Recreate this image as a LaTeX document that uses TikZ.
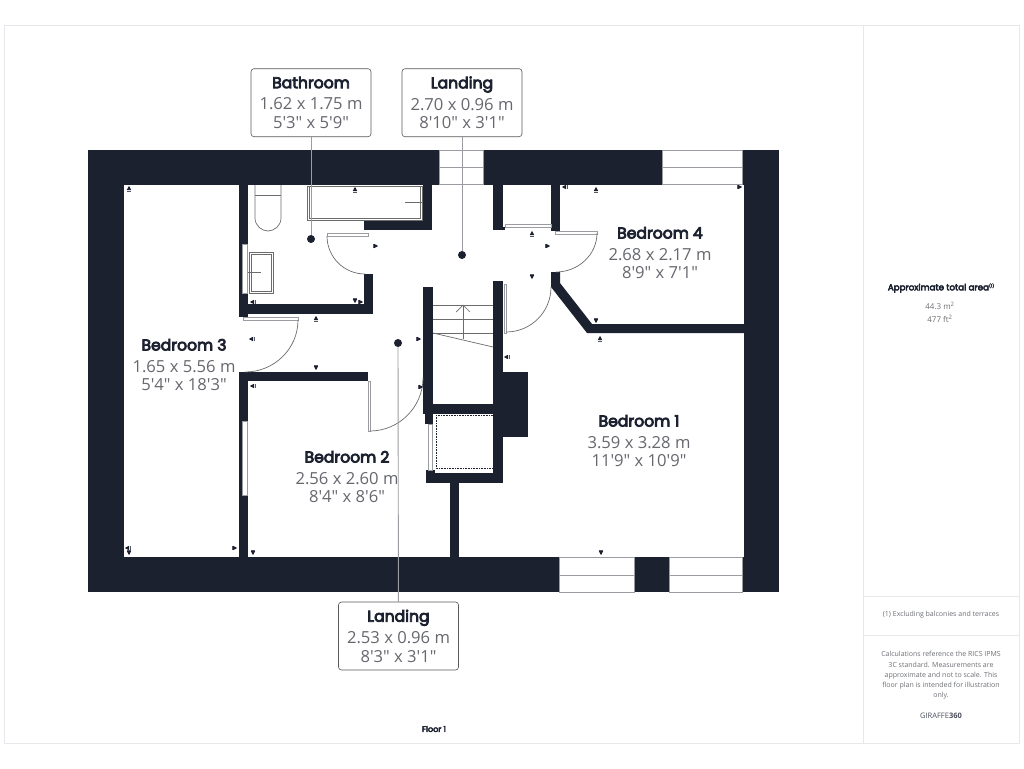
\documentclass[tikz,border=0pt]{standalone}
\usepackage{fontspec}
\setmainfont{Open Sans}[Ligatures=TeXOff]
\newfontfamily\bodyfont{Open Sans}[Ligatures=TeXOff]
\newfontfamily\headfont{Poppins}[FakeBold=5]
\definecolor{wallc}{HTML}{1C2130}
\definecolor{linec}{HTML}{9A9CA2}
\definecolor{framec}{HTML}{E8E8EC}
\definecolor{graytxt}{HTML}{66686E}
\definecolor{smalltxt}{HTML}{6E7076}
\newcommand\rlabel[3]{{\headfont\fontsize{15.6}{19}\selectfont #1}\\[3.2pt]{\color{graytxt} #2}\\{\color{graytxt} #3}}
\newcommand\mku[2]{\fill[markc] (#1-2.2,#2+2) -- (#1+2.2,#2+2) -- (#1,#2-2.2) -- cycle;\draw[markbar] (#1-1.8,#2+3.1) -- (#1+1.8,#2+3.1);}
\newcommand\mkd[2]{\fill[markc] (#1-2.2,#2-2) -- (#1+2.2,#2-2) -- (#1,#2+2.2) -- cycle;\draw[markbar] (#1-1.8,#2-3.1) -- (#1+1.8,#2-3.1);}
\newcommand\mkl[2]{\fill[markc] (#1+2,#2-2.2) -- (#1+2,#2+2.2) -- (#1-2.2,#2) -- cycle;\draw[markbar] (#1+3.1,#2-1.8) -- (#1+3.1,#2+1.8);}
\newcommand\mkr[2]{\fill[markc] (#1-2,#2-2.2) -- (#1-2,#2+2.2) -- (#1+2.2,#2) -- cycle;\draw[markbar] (#1-3.1,#2-1.8) -- (#1-3.1,#2+1.8);}
\tikzset{
  markc/.style={fill=wallc},
  markbar/.style={draw=wallc!75,line width=0.5pt},
  wall/.style={fill=wallc},
  thinl/.style={draw=linec,line width=0.8pt},
  winbox/.style={draw=linec,line width=0.8pt,fill=white},
  doorleaf/.style={draw=linec,line width=0.8pt,fill=white},
  swing/.style={draw=gray!85!black,line width=0.7pt},
  fixture/.style={draw=gray!85!black,line width=0.7pt},
  leader/.style={draw=linec,line width=0.9pt},
  dotn/.style={circle,fill=wallc,inner sep=0pt,minimum size=8pt},
  roomlabel/.style={align=center,inner sep=0pt,text=wallc,font=\fontsize{16.6}{18.6}\selectfont},
  boxlabel/.style={draw=gray!70!black,line width=0.6pt,rounded corners=3pt,fill=white,align=center,inner sep=0pt,minimum width=120pt,minimum height=68pt,text=wallc,font=\fontsize{16.6}{18.6}\selectfont},
  foot/.style={align=center,inner sep=0pt,text=smalltxt,font=\bodyfont\fontsize{7}{10.3}\selectfont},
}
\begin{document}
\begin{tikzpicture}[x=1pt,y=-1pt]
\useasboundingbox (0,0) rectangle (1024,768);
\fill[white] (0,0) rectangle (1024,768);
% frame
\draw[framec,line width=0.9pt] (4,25) rectangle (1019,743);
\draw[framec,line width=0.9pt] (863.5,25) -- (863.5,743);
\draw[framec,line width=0.9pt] (863.5,596) -- (1019,596);
\draw[framec,line width=0.9pt] (863.5,635) -- (1019,635);
% outer walls
\fill[wall] (88,150) rectangle (779,185);
\fill[wall] (88,557) rectangle (779,592);
\fill[wall] (88,150) rectangle (124,592);
\fill[wall] (744,150) rectangle (779,592);
% inner walls
\fill[wall] (239,185) rectangle (248,317);
\fill[wall] (248,304) rectangle (373,314);
\fill[wall] (364,274) rectangle (373,314);
\fill[wall] (364,220) rectangle (432,230);
\fill[wall] (423,185) rectangle (432,230);
\fill[wall] (493,185) rectangle (503,230);
\fill[wall] (551,185) rectangle (560,231);
\fill[wall] (551,272) -- (560,272) -- (560,283) -- (592,324) -- (744,324) -- (744,333) -- (587,333) -- (551,287) -- cycle;
\fill[wall] (239,372) rectangle (368,381);
\fill[wall] (239,372) rectangle (248,557);
\fill[wall] (423,287) rectangle (433,414);
\fill[wall] (425,414) rectangle (433,424);
\fill[wall] (493,281) rectangle (503,483);
\fill[wall] (423,404) rectangle (503,414);
\fill[wall] (503,372) rectangle (528,437);
\fill[wall] (426,473) rectangle (503,483);
\fill[wall] (426,470) rectangle (435,483);
\fill[wall] (449.5,483) rectangle (459,557);
\fill[wall] (503,227) rectangle (505,230);
% windows
\draw[winbox] (439.5,150) rectangle (483,184.5);
\draw[thinl] (439.5,167) -- (483,167);
\draw[winbox] (662.5,150) rectangle (742,184.5);
\draw[thinl] (662.5,167) -- (742,167);
\draw[winbox] (559.5,557.5) rectangle (634,592);
\draw[thinl] (559.5,575) -- (634,575);
\draw[winbox] (669,557.5) rectangle (742,592);
\draw[thinl] (669,575) -- (742,575);
\draw[winbox] (242,244) rectangle (247.5,293);
\draw[winbox] (242,421) rectangle (247.5,495);
% bath
\draw[fixture] (307,186) rectangle (422,220);
\draw[fixture] (309.5,186) rectangle (420.5,218);
\draw[fixture] (405,202) -- (423,202);
% toilet
\draw[fixture] (255,185) -- (255,218) .. controls (255,226) and (262,231) .. (268,231) .. controls (274,231) and (281,226) .. (281,218) -- (281,185);
\draw[fixture] (255,195) -- (281,195);
% sink
\draw[fixture] (249,252) rectangle (273,293);
\draw[fixture] (251,254) rectangle (271,291);
\draw[fixture] (248,272) -- (261,272);
% doors
\draw[doorleaf] (327,233) rectangle (368,236);
\draw[swing] (327,236) .. controls (327,257) and (344,274) .. (365,274);
\draw[doorleaf] (243,317) rectangle (298,320);
\draw[swing] (298,320) .. controls (298,349) and (274,372) .. (245,372);
\draw[doorleaf] (368,381) rectangle (370,431);
\draw[swing] (370,431) .. controls (399,431) and (423,407) .. (423,378);
\draw[doorleaf] (504,284) rectangle (506,333);
\draw[swing] (506,332) .. controls (531,332) and (551,312) .. (551,287);
\draw[doorleaf] (555,231) rectangle (597,234);
\draw[swing] (597,233) .. controls (597,255) and (578,272) .. (556,272);
\draw[doorleaf] (505,224) rectangle (551,227);
\draw[doorleaf] (428,424) rectangle (432,470);
% stairs
\draw[fixture] (433,305) -- (493,305);
\draw[fixture] (433,319) -- (493,319);
\draw[fixture] (433,333) -- (493,333);
\draw[fixture] (433,333) -- (493,347);
\draw[fixture] (463,339) -- (463,305);
\draw[fixture] (456,312) -- (463,305) -- (470,312);
% cupboard
\draw[densely dotted,draw=wallc,line width=0.6pt] (436,415) rectangle (493,468);
% markers
\mku{355}{189}\mkr{376}{246}\mkl{252}{302}\mkd{355}{301}\mkr{361}{302}\mku{316}{318}
\mkl{251}{339}\mkr{419}{339}\mkd{316}{368}\mkl{252}{386}\mkr{421}{387}\mkl{506}{357}
\mkl{564}{187}\mku{596}{189}\mkr{740}{187}\mku{532}{233}\mkr{548}{246}\mkd{532}{277}
\mkd{596}{321}\mku{600}{338}\mkl{127}{548}\mkd{129}{553}\mkr{235}{548}\mkd{253}{553}
\mkd{601}{553}\mku{129}{188}
% dots and labels
\node[dotn] (dotBath) at (311,239) {};
\node[dotn] (dotLandA) at (462,255) {};
\node[dotn] (dotLandB) at (398,343) {};
\node[boxlabel] (lblBath) at (311,102.7) {\rlabel{Bathroom}{1.62 x 1.75 m}{5'3" x 5'9"}};
\node[boxlabel] (lblLandA) at (462,102.7) {\rlabel{Landing}{2.70 x 0.96 m}{8'10" x 3'1"}};
\node[boxlabel] (lblLandB) at (398.5,636) {\rlabel{Landing}{2.53 x 0.96 m}{8'3" x 3'1"}};
\draw[leader] (lblBath) -- (dotBath);
\draw[leader] (lblLandA) -- (dotLandA);
\draw[leader] (lblLandB) -- (dotLandB);
\node[roomlabel] (r3) at (184,365) {\rlabel{Bedroom 3}{1.65 x 5.56 m}{5'4" x 18'3"}};
\node[roomlabel] (r4) at (660,253) {\rlabel{Bedroom 4}{2.68 x 2.17 m}{8'9" x 7'1"}};
\node[roomlabel] (r2) at (347,477) {\rlabel{Bedroom 2}{2.56 x 2.60 m}{8'4" x 8'6"}};
\node[roomlabel] (r1) at (639,441) {\rlabel{Bedroom 1}{3.59 x 3.28 m}{11'9" x 10'9"}};
% footer
\node[inner sep=0pt,text=wallc,font=\headfont\fontsize{8}{10}\selectfont] (floor) at (434,729) {Floor 1};
\node[inner sep=0pt,text=wallc,font=\headfont\fontsize{8.7}{10}\selectfont] (area) at (941,288) {Approximate total area\raisebox{3pt}{\fontsize{4.2}{4.2}\selectfont(1)}};
\node[foot,font=\bodyfont\fontsize{8}{13}\selectfont] (areav) at (940,312.5) {44.3 m\textsuperscript{2}\\477 ft\textsuperscript{2}};
\node[foot] (excl) at (941,615) {(1) Excluding balconies and terraces};
\node[foot] (calc) at (941,675.5) {Calculations reference the RICS IPMS\\3C standard. Measurements are\\approximate and not to scale. This\\floor plan is intended for illustration\\only.};
\node[inner sep=0pt,text=wallc!80,font=\bodyfont\fontsize{7.5}{10}\selectfont] (giraffe) at (941,716) {GIRAFFE\textbf{360}};
\end{tikzpicture}
\end{document}
